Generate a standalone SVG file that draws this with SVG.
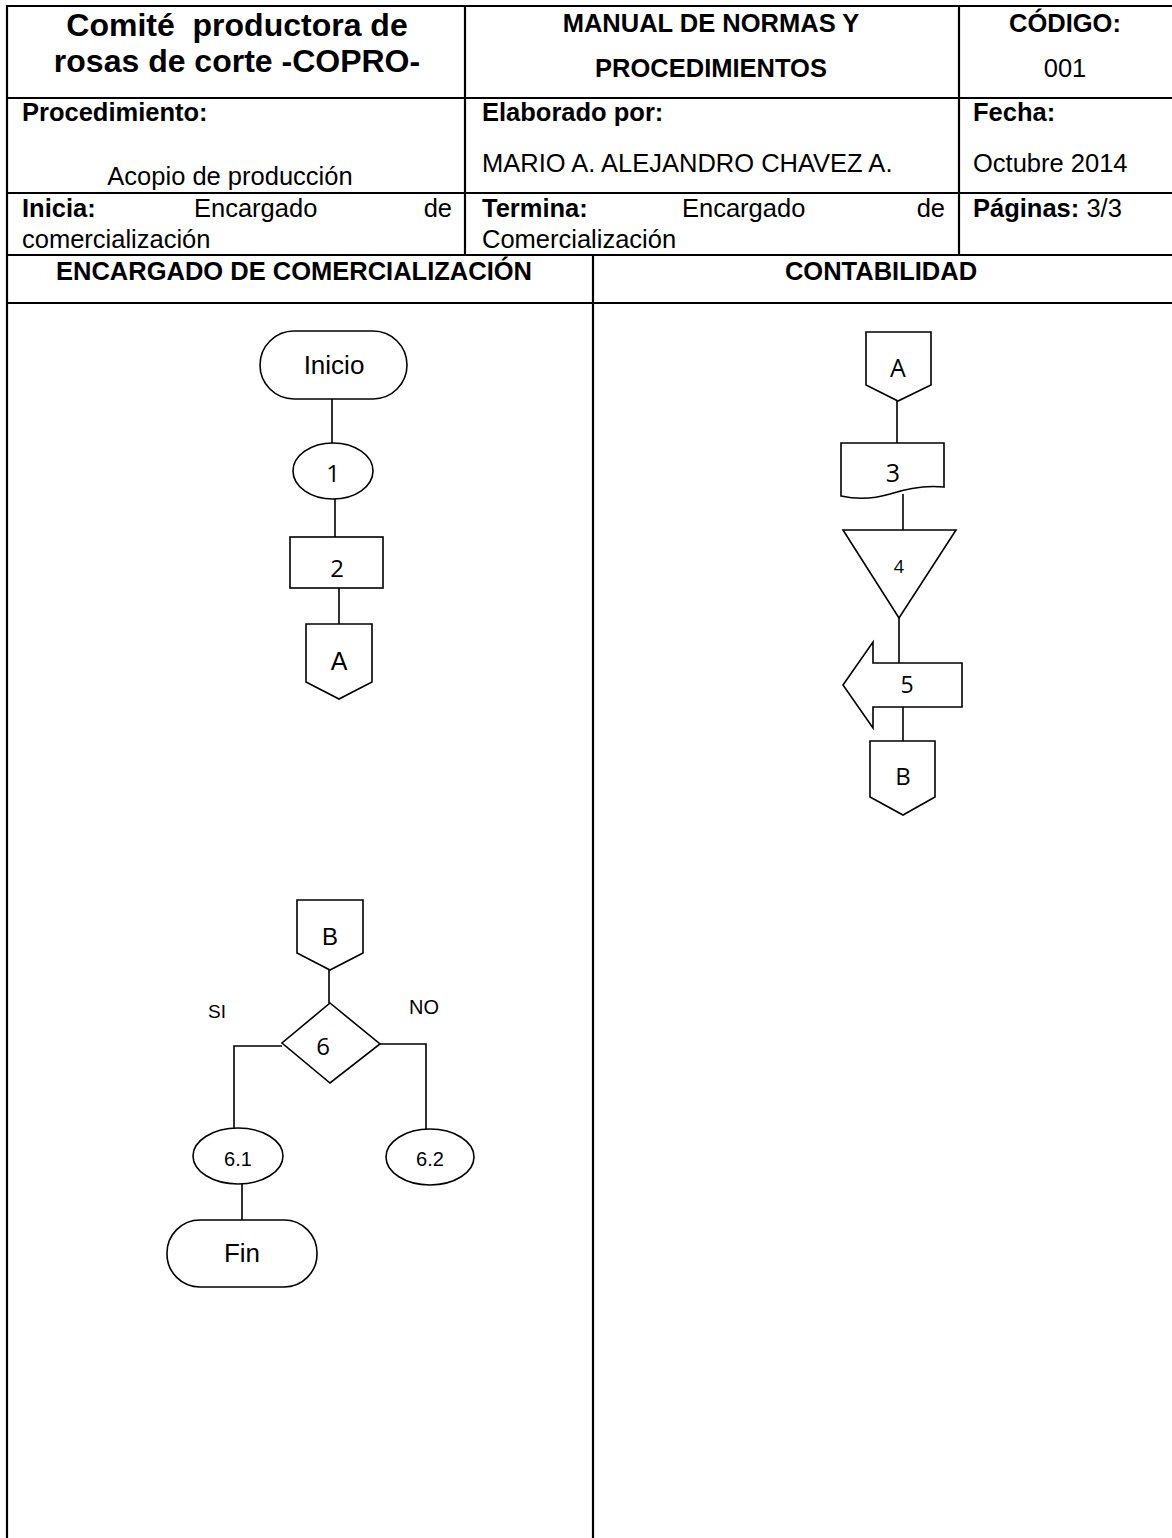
<svg xmlns="http://www.w3.org/2000/svg" width="1172" height="1538" viewBox="0 0 1172 1538">
<style>
.bg{fill:#fff}
.grid{stroke:#000;stroke-width:2.2;fill:none}
.sh{fill:#fff;stroke:#000;stroke-width:1.6}
.cn{stroke:#000;stroke-width:1.6;fill:none}
.t{font-family:"Liberation Sans",Arial,sans-serif;fill:#000}
.b{font-weight:bold}
.h{font-size:25.5px}
.ti{font-size:32px;font-weight:bold}
.m{text-anchor:middle}
.e{text-anchor:end}
.n{font-family:"Open Sans","Noto Sans",sans-serif;fill:#000;text-anchor:middle}
</style>
<rect class="bg" x="0" y="0" width="1172" height="1538"/>
<g id="table">
<path class="grid" d="M7,5V1538 M6,6H1172 M6,98H1172 M6,193H1172 M6,255H1172 M6,303H1172 M465,6V255 M959,6V255 M593,255V1538"/>
<text class="t ti m" x="237" y="36" xml:space="preserve">Comité  productora de</text>
<text class="t ti m" x="237" y="72">rosas de corte -COPRO-</text>
<text class="t h b m" x="711" y="32">MANUAL DE NORMAS Y</text>
<text class="t h b m" x="711" y="77">PROCEDIMIENTOS</text>
<text class="t h b m" x="1065" y="32">CÓDIGO:</text>
<text class="t h m" x="1065" y="77">001</text>
<text class="t h b" x="22" y="121">Procedimiento:</text>
<text class="t h m" x="230" y="185">Acopio de producción</text>
<text class="t h b" x="482" y="121">Elaborado por:</text>
<text class="t h" x="482" y="172">MARIO A. ALEJANDRO CHAVEZ A.</text>
<text class="t h b" x="973" y="121">Fecha:</text>
<text class="t h" x="973" y="172">Octubre 2014</text>
<text class="t h b" x="22" y="217">Inicia:</text>
<text class="t h" x="194" y="217">Encargado</text>
<text class="t h e" x="452" y="217">de</text>
<text class="t h" x="22" y="248">comercialización</text>
<text class="t h b" x="482" y="217">Termina:</text>
<text class="t h" x="682" y="217">Encargado</text>
<text class="t h e" x="945" y="217">de</text>
<text class="t h" x="482" y="248">Comercialización</text>
<text class="t h" x="973" y="217"><tspan class="b">Páginas:</tspan> 3/3</text>
<text class="t h b m" x="294" y="280">ENCARGADO DE COMERCIALIZACIÓN</text>
<text class="t h b m" x="881" y="280">CONTABILIDAD</text>
</g>
<g id="connectors">
<path class="cn" d="M332,399V443 M335,499V537 M339,588V624"/>
<path class="cn" d="M897,401V443 M903,494V530 M899,618V663 M903,707V741"/>
<path class="cn" d="M329,968V1003 M282,1046H234V1128 M380,1044H426V1129 M242,1184V1220"/>
<text class="t m" x="217" y="1018" style="font-size:19px">SI</text>
<text class="t m" x="424" y="1014" style="font-size:20px">NO</text>
</g>
<g id="n-inicio"><rect class="sh" x="260" y="331" width="147" height="68" rx="34"/><text class="t m" x="334" y="374" style="font-size:26px">Inicio</text></g>
<g id="n-1"><ellipse class="sh" cx="333" cy="471" rx="40" ry="28"/><text class="n" x="333" y="482" style="font-size:24px">1</text></g>
<g id="n-2"><rect class="sh" x="290" y="537" width="93" height="51"/><text class="n" x="337" y="577" style="font-size:24px">2</text></g>
<g id="n-A1"><path class="sh" d="M306,624H372V682L339,699L306,682Z"/><text class="t m" x="339" y="670" style="font-size:25px">A</text></g>
<g id="n-A2"><path class="sh" d="M866,332H931V385L898,401L866,385Z"/><text class="n" x="898" y="377" style="font-size:25px">A</text></g>
<g id="n-3"><path class="sh" d="M841,443H944V487C925,485 905,489 890,494C870,500 855,499 841,496Z"/><text class="n" x="893" y="482" style="font-size:25px">3</text></g>
<g id="n-4"><path class="sh" d="M843,530H956L899,618Z"/><text class="n" x="899" y="573" style="font-size:18px">4</text></g>
<g id="n-5"><path class="sh" d="M843,685L873,642V663H962V707H873V728Z"/><text class="n" x="907" y="693" style="font-size:23px">5</text></g>
<g id="n-B1"><path class="sh" d="M870,741H935V797L903,815L870,797Z"/><text class="n" x="903" y="785" style="font-size:24px">B</text></g>
<g id="n-B2"><path class="sh" d="M297,900H363V953L330,970L297,953Z"/><text class="t m" x="330" y="945" style="font-size:24px">B</text></g>
<g id="n-6"><path class="sh" d="M330,1003L380,1044L330,1083L282,1043Z"/><text class="n" x="323" y="1055" style="font-size:24px">6</text></g>
<g id="n-6-1"><ellipse class="sh" cx="238" cy="1156" rx="45" ry="28"/><text class="t m" x="238" y="1166" style="font-size:20px">6.1</text></g>
<g id="n-6-2"><ellipse class="sh" cx="430" cy="1157" rx="44" ry="28"/><text class="t m" x="430" y="1166" style="font-size:20px">6.2</text></g>
<g id="n-fin"><rect class="sh" x="167" y="1220" width="150" height="67" rx="33"/><text class="t m" x="242" y="1262" style="font-size:26px">Fin</text></g>
</svg>
